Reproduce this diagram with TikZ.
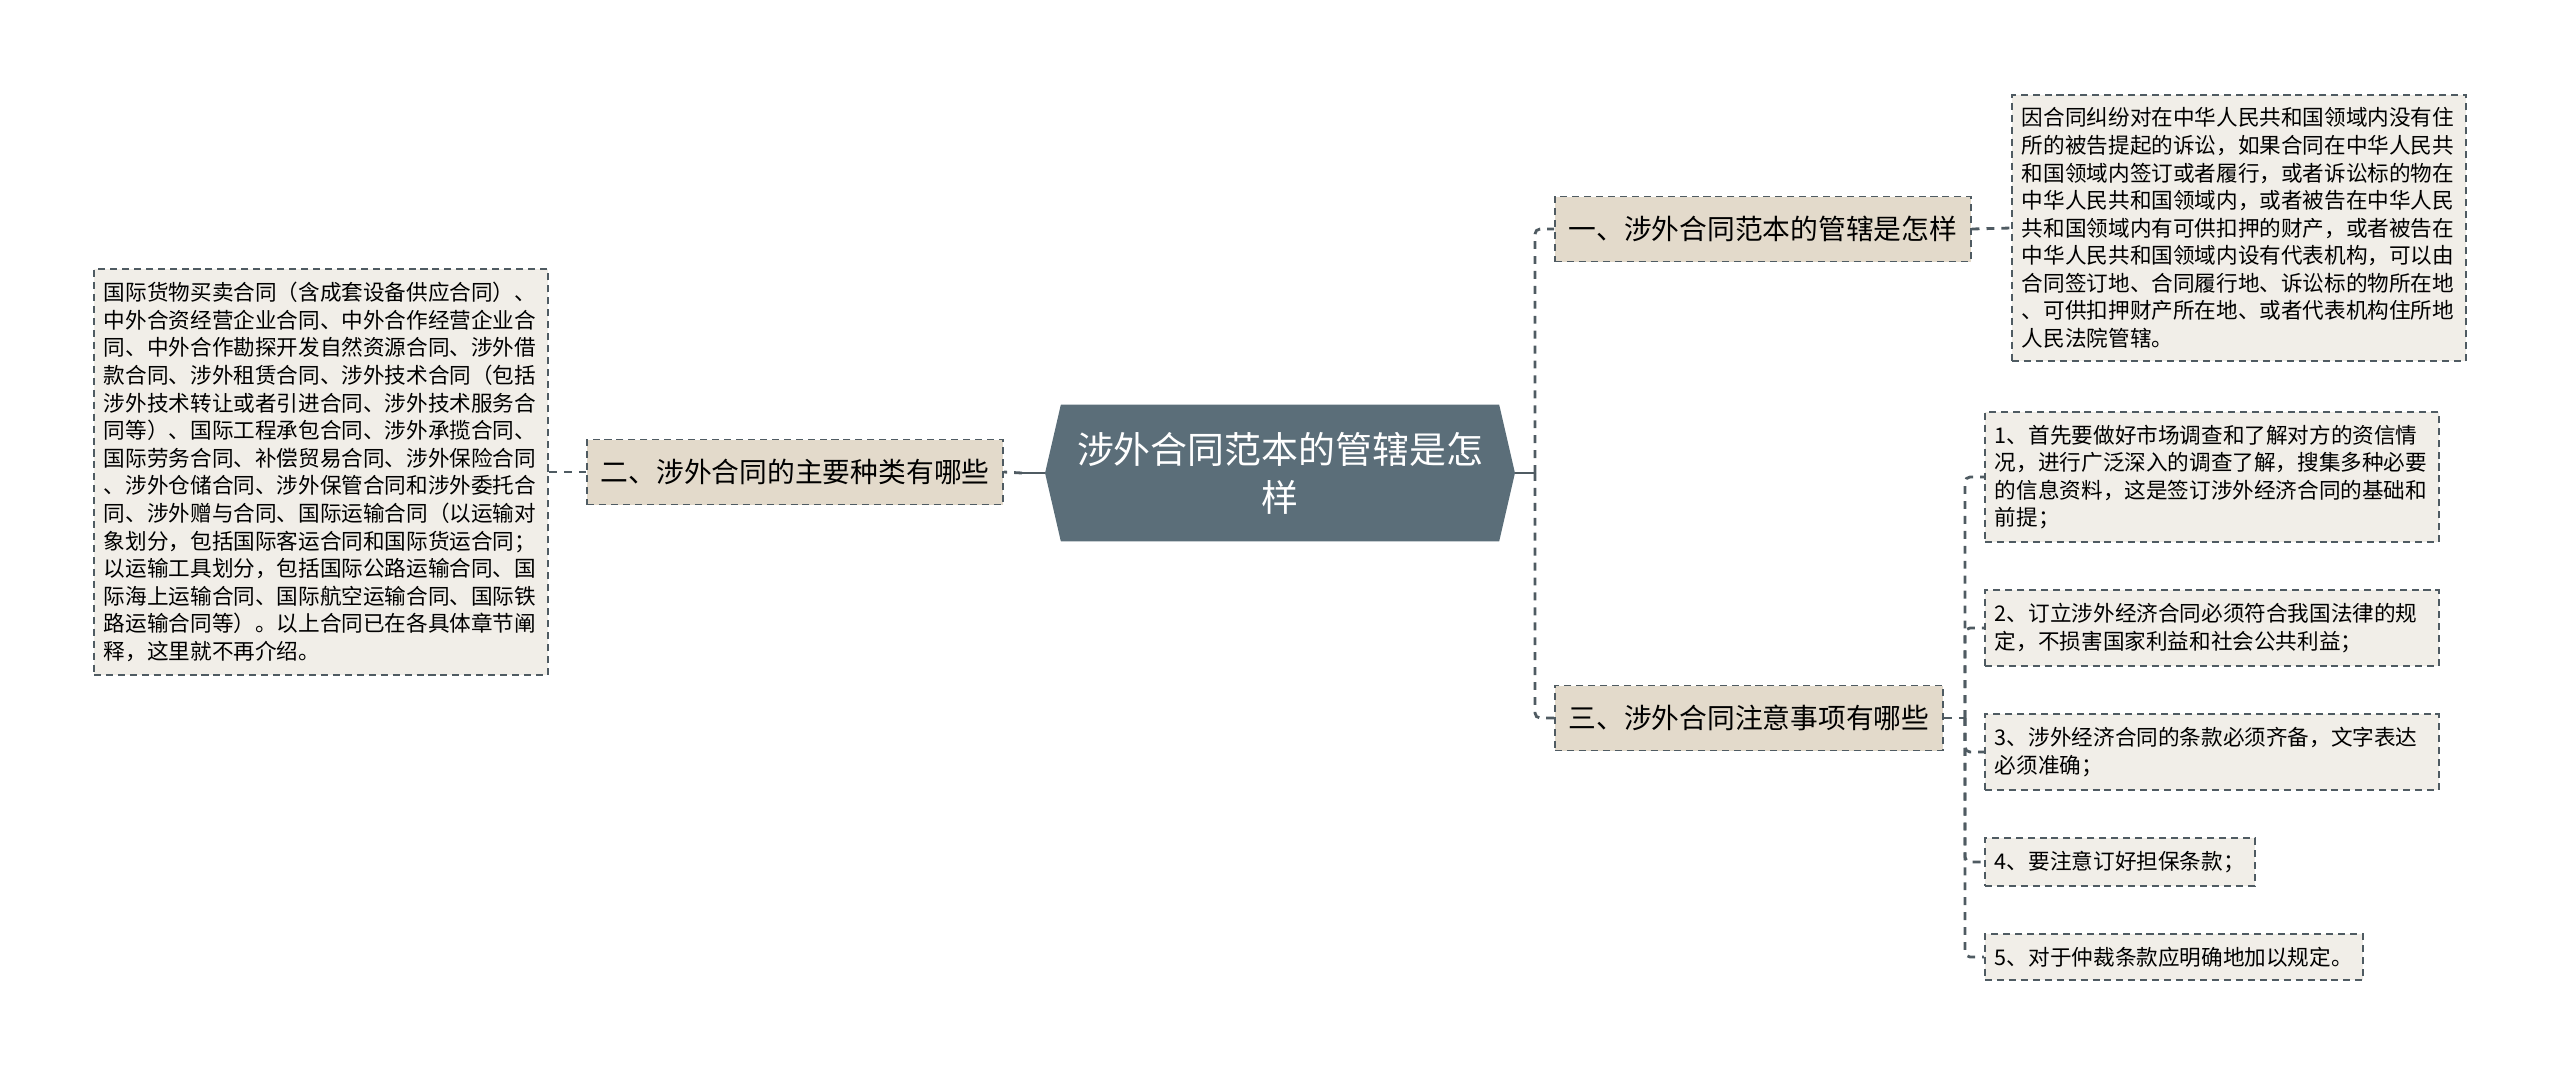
\documentclass[tikz,border=0pt]{standalone}
\usepackage{fontspec}
\setmainfont{Noto Sans CJK SC}
\usetikzlibrary{positioning}
\usetikzlibrary{shapes.symbols}
\definecolor{rootfill}{HTML}{5B6E79}
\definecolor{branchfill}{HTML}{E3DACB}
\definecolor{leaffill}{HTML}{F1EEE8}
\definecolor{edgecol}{HTML}{4F5B62}

\begin{document}
\begin{tikzpicture}[x=0.02cm, y=-0.02cm,
  rootnode/.style={signal, signal to=west and east, signal pointer angle=154, fill=rootfill, text=white, minimum width=9.4cm, minimum height=2.74cm, align=center, font=\fontsize{21}{27.5}\selectfont},
  branch/.style={draw=edgecol, dash pattern=on 4pt off 2.8pt, line width=1.1pt, fill=branchfill, minimum height=1.3cm, inner xsep=0.27cm, font=\fontsize{15.8}{19}\selectfont},
  leaf/.style={draw=edgecol, dash pattern=on 4pt off 2.8pt, line width=1.1pt, fill=leaffill, anchor=west, inner xsep=0.2cm, inner ysep=0.26cm, align=left, font=\fontsize{12.3}{15.7}\selectfont},
  longleaf/.style={leaf, text width=8.68cm},
  link/.style={draw=edgecol, dash pattern=on 4.5pt off 4pt, line width=1.6pt, rounded corners=0.1cm},
  stub/.style={draw=edgecol, line width=1.6pt}]
\useasboundingbox (0,0) rectangle (2560,1076);

\node[rootnode] (root) at (1280,473) {涉外合同范本的管辖是怎\\样};

\node[branch, anchor=east] (b2) at (1004,472) {二、涉外合同的主要种类有哪些};
\node[longleaf] (l2) at (93,472) {国际货物买卖合同（含成套设备供应合同）、\\中外合资经营企业合同、中外合作经营企业合\\同、中外合作勘探开发自然资源合同、涉外借\\款合同、涉外租赁合同、涉外技术合同（包括\\涉外技术转让或者引进合同、涉外技术服务合\\同等）、国际工程承包合同、涉外承揽合同、\\国际劳务合同、补偿贸易合同、涉外保险合同\\、涉外仓储合同、涉外保管合同和涉外委托合\\同、涉外赠与合同、国际运输合同（以运输对\\象划分，包括国际客运合同和国际货运合同；\\以运输工具划分，包括国际公路运输合同、国\\际海上运输合同、国际航空运输合同、国际铁\\路运输合同等）。以上合同已在各具体章节阐\\释，这里就不再介绍。};

\node[branch, anchor=west] (b1) at (1554,229) {一、涉外合同范本的管辖是怎样};
\node[longleaf] (l1) at (2011,228) {因合同纠纷对在中华人民共和国领域内没有住\\所的被告提起的诉讼，如果合同在中华人民共\\和国领域内签订或者履行，或者诉讼标的物在\\中华人民共和国领域内，或者被告在中华人民\\共和国领域内有可供扣押的财产，或者被告在\\中华人民共和国领域内设有代表机构，可以由\\合同签订地、合同履行地、诉讼标的物所在地\\、可供扣押财产所在地、或者代表机构住所地\\人民法院管辖。};

\node[branch, anchor=west] (b3) at (1554,718) {三、涉外合同注意事项有哪些};
\node[longleaf] (l3a) at (1984,477) {1、首先要做好市场调查和了解对方的资信情\\况，进行广泛深入的调查了解，搜集多种必要\\的信息资料，这是签订涉外经济合同的基础和\\前提；};
\node[longleaf] (l3b) at (1984,628) {2、订立涉外经济合同必须符合我国法律的规\\定，不损害国家利益和社会公共利益；};
\node[longleaf] (l3c) at (1984,752) {3、涉外经济合同的条款必须齐备，文字表达\\必须准确；};
\node[leaf] (l3d) at (1984,862) {4、要注意订好担保条款；};
\node[leaf] (l3e) at (1984,957) {5、对于仲裁条款应明确地加以规定。};

\coordinate (rj) at (1535,473);
\coordinate (lj) at (1022,473);
\coordinate (tj) at (1965,718);

\draw[stub] (root.east) -- (rj);
\draw[link] (rj) |- (b1.west);
\draw[link] (rj) |- (b3.west);
\draw[stub] (root.west) -- (lj);
\draw[link] (lj) -- (b2.east);
\draw[link] (b2.west) -- (l2.east);
\draw[link] (b1.east) -- (l1.west);
\draw[link] (b3.east) -- (tj);
\foreach \n in {l3a,l3b,l3c,l3d,l3e}
  \draw[link] (tj) |- (\n.west);
\end{tikzpicture}
\end{document}
